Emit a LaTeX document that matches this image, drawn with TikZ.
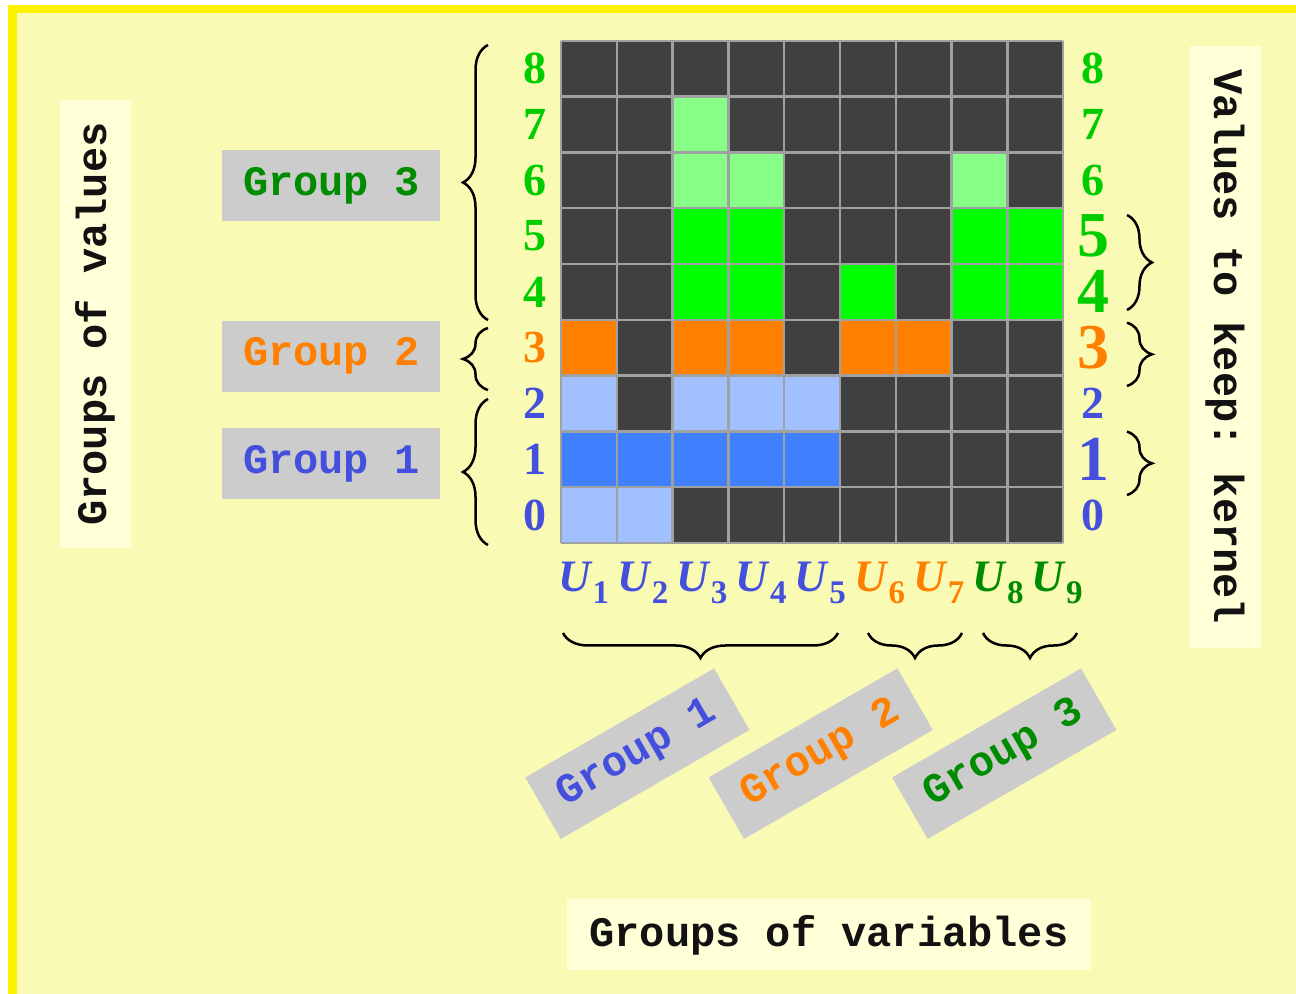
\documentclass[tikz,border=0pt]{standalone}
\usepackage{fontspec}
\setmainfont{Liberation Serif}
\setmonofont{Liberation Mono}
\usetikzlibrary{decorations.pathreplacing}
\definecolor{bgyellow}{HTML}{F9FAB4}
\definecolor{boxyellow}{HTML}{FFFFD8}
\definecolor{cdark}{HTML}{404040}
\definecolor{cgrid}{HTML}{A0A0A0}
\definecolor{lgreen}{HTML}{88FF88}
\definecolor{fgreen}{HTML}{00FF00}
\definecolor{forange}{HTML}{FF8000}
\definecolor{lblue}{HTML}{A0C0FF}
\definecolor{fblue}{HTML}{4080FF}
\definecolor{numgreen}{HTML}{00CC00}
\definecolor{txtblue}{HTML}{4450DD}
\definecolor{txtgreen}{HTML}{008C00}
\definecolor{boxgrey}{HTML}{CCCCCC}
\newcommand{\Uvar}[1]{\textit{U}\raisebox{-12pt}{\fontsize{33}{33}\selectfont #1}}
\tikzset{
    grouplabel/.style={fill=boxgrey, minimum width=218pt, minimum height=71pt, inner sep=0pt,
        font=\fontsize{42}{42}\selectfont\ttfamily\bfseries},
    axislabel/.style={fill=boxyellow, minimum height=71pt, inner sep=0pt, text=black!93,
        font=\fontsize{42}{42}\selectfont\ttfamily\bfseries},
    num/.style={font=\fontsize{46}{46}\selectfont\bfseries, inner sep=0pt},
    bignum/.style={font=\fontsize{64}{64}\selectfont\bfseries, inner sep=0pt},
    ulabel/.style={font=\fontsize{45}{45}\selectfont\bfseries, anchor=base, inner sep=0pt},
    gbrace/.style={decorate, decoration={brace, amplitude=25pt}, line width=2.5pt}
}
\begin{document}
\begin{tikzpicture}[x=55.8pt,y=55.8pt]
            \useasboundingbox (-10.054,-8.082) rectangle (13.172,9.731);
            \clip (-10.054,-8.082) rectangle (13.172,9.731);
            \fill [white] (-10.054,-8.082) rectangle (13.172,9.731);
            \filldraw [fill=bgyellow,draw=yellow,line width=8.5pt] (-9.830,9.570) rectangle (13.315,-8.154);
            % cells
            \fill [cdark] (0,0) rectangle (9,9);
            \foreach \c/\r in {2/7,2/6,3/6,7/6} \fill [lgreen] (\c,\r) rectangle +(1,1);
            \foreach \c/\r in {2/5,3/5,7/5,8/5,2/4,3/4,5/4,7/4,8/4} \fill [fgreen] (\c,\r) rectangle +(1,1);
            \foreach \c in {0,2,3,5,6} \fill [forange] (\c,3) rectangle +(1,1);
            \foreach \c/\r in {0/2,2/2,3/2,4/2,0/0,1/0} \fill [lblue] (\c,\r) rectangle +(1,1);
            \foreach \c in {0,...,4} \fill [fblue] (\c,1) rectangle +(1,1);
            \draw [cgrid,line width=2.5pt,step=1] (0,0) grid (9,9);
            % value labels
            \foreach \n/\col in {0/txtblue,1/txtblue,2/txtblue,3/forange,4/numgreen,5/numgreen,6/numgreen,7/numgreen,8/numgreen}
                \path (-0.466,\n+0.5) node [num,text=\col] (left\n) {\n};
            \foreach \n/\col/\sty in {0/txtblue/num,1/txtblue/bignum,2/txtblue/num,3/forange/bignum,4/numgreen/bignum,5/numgreen/bignum,6/numgreen/num,7/numgreen/num,8/numgreen/num}
                \path (9.54,\n+0.5) node [\sty,text=\col] (right\n) {\n};
            % variable labels
            \foreach \i/\col in {1/txtblue,2/txtblue,3/txtblue,4/txtblue,5/txtblue,6/forange,7/forange,8/txtgreen,9/txtgreen}
                \path (0.405+1.061*\i-1.061,-0.878) node [ulabel,text=\col] (var\i) {\Uvar{\i}};
            % braces
            \draw [gbrace] (-1.308,3.996) -- (-1.308,8.925);
            \draw [gbrace] (-1.308,2.742) -- (-1.308,3.853);
            \draw [gbrace] (-1.308,-0.036) -- (-1.308,2.581);
            \draw [gbrace] (10.143,5.878) -- (10.143,4.176);
            \draw [gbrace] (10.143,3.948) -- (10.143,2.814);
            \draw [gbrace] (10.143,1.995) -- (10.143,0.860);
            \draw [gbrace] (4.964,-1.613) -- (0.036,-1.613);
            \draw [gbrace] (7.186,-1.613) -- (5.502,-1.613);
            \draw [gbrace] (9.247,-1.613) -- (7.563,-1.613);
            % group boxes
            \path (-4.115,6.398) node [grouplabel,text=txtgreen] (valgroup3) {Group 3};
            \path (-4.115,3.346) node [grouplabel,text=forange] (valgroup2) {Group 2};
            \path (-4.115,1.416) node [grouplabel,text=txtblue] (valgroup1) {Group 1};
            \path (1.369,-3.776) node [grouplabel,rotate=30,text=txtblue] (vargroup1) {Group 1};
            \path (4.654,-3.776) node [grouplabel,rotate=30,text=forange] (vargroup2) {Group 2};
            \path (7.944,-3.776) node [grouplabel,rotate=30,text=txtgreen] (vargroup3) {Group 3};
            % axis titles
            \path (-8.342,3.925) node [axislabel,rotate=90,minimum width=448pt] (valtitle) {Groups of values};
            \path (11.909,3.513) node [axislabel,rotate=-90,minimum width=602pt] (keeptitle) {Values to keep: kernel};
            \path (4.803,-7.025) node [axislabel,minimum width=524pt] (vartitle) {Groups of variables};
\end{tikzpicture}
\end{document}
